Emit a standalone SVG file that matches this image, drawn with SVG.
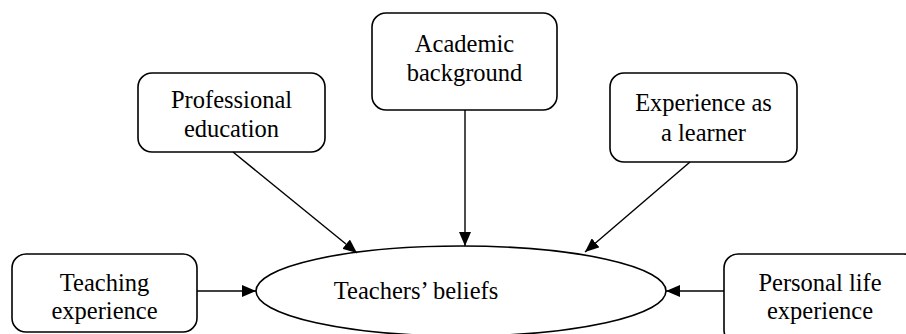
<svg xmlns="http://www.w3.org/2000/svg" width="906" height="334" viewBox="0 0 906 334">
<style>
.box{fill:#fff;stroke:#000;stroke-width:1.6}
.t{font-family:'Liberation Serif','Times New Roman',serif;font-size:24.5px;fill:#000;text-anchor:middle}
.c{stroke:#000;stroke-width:1.4;fill:none;marker-end:url(#ah)}
</style>
<defs>
<marker id="ah" viewBox="0 0 14 12" refX="14" refY="6" markerWidth="14" markerHeight="12" markerUnits="userSpaceOnUse" orient="auto">
<path d="M0,0 L14,6 L0,12 Z" fill="#000"/>
</marker>
</defs>
<rect width="906" height="334" fill="#fff"/>
<g id="academic">
<rect class="box" x="372" y="13" width="185" height="97" rx="14"/>
<text class="t" x="464.5" y="52">Academic</text>
<text class="t" x="464.5" y="81">background</text>
</g>
<g id="professional">
<rect class="box" x="138" y="73" width="187" height="79" rx="14"/>
<text class="t" x="231.5" y="108">Professional</text>
<text class="t" x="231.5" y="137">education</text>
</g>
<g id="learner">
<rect class="box" x="610" y="73" width="187" height="89" rx="14"/>
<text class="t" x="703.5" y="111">Experience as</text>
<text class="t" x="703.5" y="141">a learner</text>
</g>
<g id="teaching">
<rect class="box" x="12" y="254" width="185" height="78" rx="14"/>
<text class="t" x="104.5" y="291">Teaching</text>
<text class="t" x="104.5" y="319">experience</text>
</g>
<g id="personal">
<rect class="box" x="724" y="254" width="194" height="90" rx="14"/>
<text class="t" x="820" y="291">Personal life</text>
<text class="t" x="820" y="319">experience</text>
</g>
<g id="beliefs">
<ellipse class="box" cx="461" cy="291" rx="205" ry="45"/>
<text class="t" x="416" y="299">Teachers’ beliefs</text>
</g>
<g id="connectors">
<line class="c" x1="233" y1="152" x2="357" y2="253"/>
<line class="c" x1="465" y1="110" x2="465" y2="246"/>
<line class="c" x1="690" y1="162" x2="585" y2="252"/>
<line class="c" x1="197" y1="291" x2="256" y2="291"/>
<line class="c" x1="724" y1="291" x2="666" y2="291"/>
</g>
</svg>
